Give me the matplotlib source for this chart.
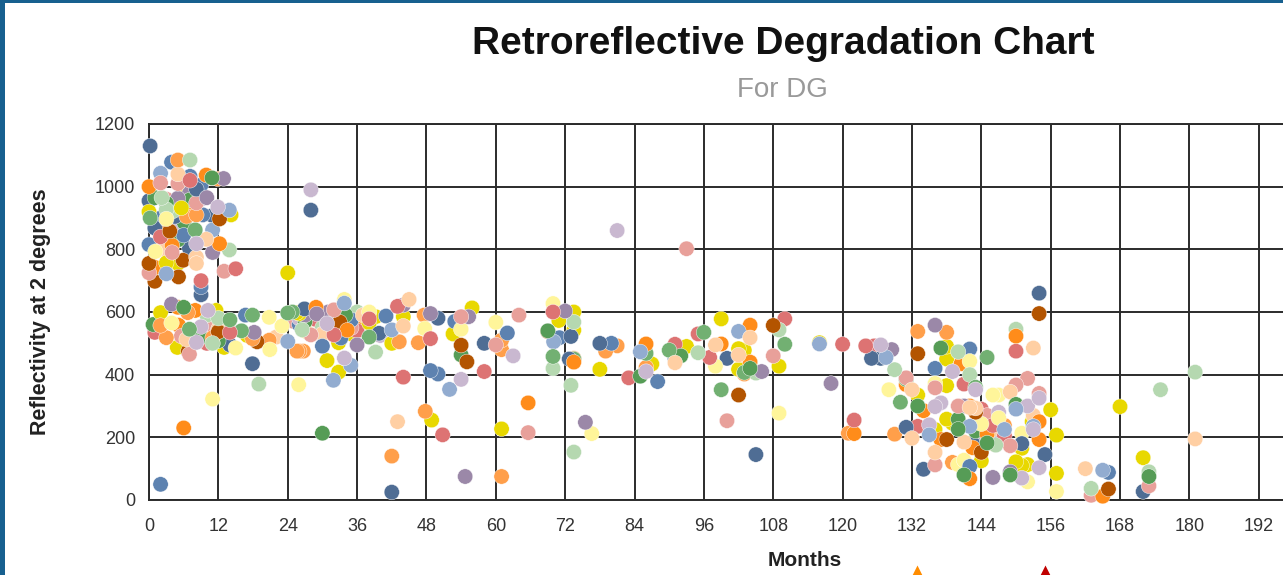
import numpy as np
import matplotlib
matplotlib.use('Agg')
import matplotlib.pyplot as plt
from matplotlib.patches import Rectangle

W, H = 1283, 575

navy_m = [0.2, 8.2, 0, 4.5, 11, 1, 9, 14, 17.9, 26.9, 39.8, 50, 58, 73, 72.7, 42, 78, 100, 105, 125, 126.6, 154, 131, 134, 155, 151, 172, 142.5, 28, 7]
navy_v = [1130, 992, 955, 905, 908, 868, 655, 495, 435, 610, 532, 580, 500, 522, 450, 25, 500, 452, 145, 452, 452, 660, 232, 98, 145, 180, 27, 180, 925, 803]
blue_m = [3.9, 7.1, 9, 9.3, 0, 6, 9, 2, 16.7, 30, 33.2, 41, 48.7, 50, 52.9, 62, 71, 80, 88, 91, 136, 142, 142, 166, 2, 6, 26, 35, 146]
blue_v = [1078, 1033, 1005, 910, 815, 845, 680, 50, 590, 491, 517, 587, 413, 402, 570, 533, 518, 500, 378, 452, 420, 482, 107, 88, 900, 950, 560, 575, 200]
lblue_m = [2, 13.9, 11, 3, 24, 31.9, 34.9, 33.8, 42, 52, 70, 85, 102, 127.5, 135, 150, 142, 148, 165, 116, 153]
lblue_v = [1043, 925, 862, 722, 506, 382, 430, 628, 543, 353, 505, 473, 538, 455, 208, 290, 235, 225, 95, 498, 235]
orange_m = [0, 9.9, 12.2, 4, 1.1, 5, 8, 5.1, 28.9, 34.3, 65.6, 73.5, 86, 99, 104, 104, 134, 142, 142.5, 150, 154, 154, 165, 122, 131, 145, 137, 140.5, 6, 3, 7, 10, 36, 142, 146]
orange_v = [1000, 1037, 818, 812, 742, 615, 605, 558, 615, 542, 310, 440, 498, 498, 558, 440, 285, 68, 167, 523, 250, 193, 12, 212, 368, 210, 193, 435, 230, 880, 930, 560, 560, 300, 180]
lorange_m = [5, 11.9, 8.2, 6.5, 2, 3, 6.7, 11, 17.9, 20.8, 25.6, 26, 26.7, 43.3, 46.6, 47.6, 47.8, 42, 61, 61, 61, 73.5, 79, 81, 86, 133, 138, 129, 121, 139, 148, 103]
lorange_v = [1085, 1025, 910, 905, 557, 518, 598, 518, 515, 510, 475, 475, 475, 505, 502, 590, 283, 140, 510, 480, 75, 452, 475, 492, 423, 538, 535, 210, 213, 120, 238, 402]
peach_m = [5, 9.9, 8.2, 8.2, 6.5, 45, 44, 43, 91, 98, 104, 102, 153, 132, 142, 143, 132, 136, 141, 162, 181, 149, 153, 2, 12, 22, 30, 37, 146]
peach_v = [1040, 832, 755, 775, 513, 640, 555, 250, 438, 495, 518, 463, 485, 352, 295, 293, 197, 152, 185, 100, 195, 345, 270, 800, 545, 520, 530, 590, 225]
red_m = [7.1, 2, 15, 9, 14, 32, 38.1, 43, 44, 50.8, 48.7, 58, 69.9, 83, 91, 95, 97, 110, 120, 124, 122, 125.5, 141, 150, 133, 146, 148, 1, 6, 10, 29, 36, 144]
red_v = [1020, 840, 738, 700, 535, 527, 578, 618, 392, 208, 515, 410, 600, 390, 497, 530, 455, 578, 497, 492, 255, 492, 370, 475, 235, 238, 205, 535, 905, 500, 575, 540, 290]
pink_m = [2, 5, 8.2, 4, 0, 13, 7, 5.6, 28, 32, 54, 60, 64, 65.6, 93, 100, 108, 131, 136, 136, 140, 149, 150, 152, 154, 163, 173, 3, 11, 25, 35, 145]
pink_v = [1012, 1010, 948, 790, 725, 730, 465, 523, 527, 607, 585, 495, 590, 215, 802, 253, 460, 390, 358, 112, 300, 173, 367, 388, 340, 15, 45, 960, 555, 570, 550, 270]
yellow_m = [5.6, 0, 14.2, 3, 5, 2, 11.6, 4.9, 13, 17, 25.6, 24, 26, 32.8, 30.8, 32.8, 38.1, 39.2, 44, 42, 48.9, 52.6, 55.9, 61, 73.5, 70.9, 73.5, 78, 87, 93, 99, 102, 103, 102, 109, 116, 133, 138, 138, 138, 138, 136, 139, 144, 150, 151, 152, 151, 152.8, 156, 157, 157, 168, 172, 6, 10, 13, 27, 35, 147]
yellow_v = [932, 920, 910, 757, 755, 598, 605, 487, 487, 525, 598, 725, 595, 502, 445, 408, 565, 585, 585, 500, 255, 530, 613, 227, 600, 573, 542, 417, 434, 490, 578, 483, 478, 417, 427, 502, 335, 490, 450, 365, 258, 225, 245, 125, 122, 110, 113, 165, 250, 288, 207, 85, 298, 135, 990, 520, 560, 540, 530, 215]
lyellow_m = [3, 1.1, 3.9, 15, 20.8, 20.9, 23, 25.9, 11, 33.8, 38.1, 47.7, 54, 60, 69.9, 76.6, 98, 109, 128, 136, 142, 146, 147, 147, 144, 141, 140, 151, 152, 157]
lyellow_v = [897, 793, 565, 485, 583, 480, 555, 368, 322, 640, 600, 547, 545, 567, 627, 212, 427, 277, 352, 372, 443, 335, 335, 262, 243, 127, 113, 213, 58, 27]
green_m = [10.9, 1, 3, 7.1, 6, 6.1, 0.7, 12, 30, 69, 85, 92, 104, 133, 137, 140, 141, 145, 149, 173, 150, 140, 54, 5, 9, 27, 34, 143]
green_v = [1028, 965, 947, 958, 615, 885, 560, 508, 213, 540, 395, 460, 420, 300, 485, 226, 80, 182, 80, 75, 305, 258, 463, 830, 520, 570, 590, 220]
mgreen_m = [0.2, 8, 7, 14, 17.9, 16, 24, 24.8, 38.1, 69.9, 90, 96, 99, 103, 110, 130, 145, 143, 131, 86, 73.5]
mgreen_v = [900, 862, 545, 575, 590, 540, 597, 600, 520, 458, 478, 535, 352, 407, 497, 312, 455, 360, 385, 468, 450]
lgreen_m = [7.1, 2.2, 3, 4.1, 13.9, 12, 11, 19, 26.5, 39.2, 69.9, 73, 73.5, 73.5, 95, 105, 109, 129, 140, 142, 150, 146.5, 163, 173, 175, 181, 5, 10, 30, 36, 147]
lgreen_v = [1085, 965, 927, 922, 798, 580, 500, 370, 543, 472, 420, 366, 153, 568, 470, 405, 543, 416, 473, 400, 545, 175, 37, 90, 352, 408, 880, 590, 550, 600, 200]
purple_m = [12.9, 10, 5, 11, 3.9, 18.2, 29, 36, 44, 48.7, 55.3, 54.7, 72, 75.5, 106, 118, 128.5, 136, 146, 149, 7, 13, 27, 31, 141]
purple_v = [1026, 965, 963, 790, 625, 535, 594, 495, 622, 595, 585, 75, 603, 248, 410, 372, 480, 558, 72, 90, 980, 510, 590, 600, 300]
lilac_m = [11.9, 8.2, 10.2, 9, 8.2, 30.8, 33.8, 54, 63, 81, 86, 126.6, 139, 143, 154, 136, 137, 152, 135, 153, 154, 151, 28, 40, 4, 9, 26, 32, 144, 147]
lilac_v = [935, 818, 605, 553, 503, 563, 453, 385, 460, 860, 410, 495, 410, 352, 325, 298, 310, 300, 240, 225, 103, 70, 990, 525, 870, 960, 580, 570, 190, 280]
brown_m = [3.6, 12.2, 0, 5.9, 5.1, 1, 12, 6.8, 18.7, 33, 54, 55, 102, 108, 133, 138, 143, 144, 154, 166, 69]
brown_v = [858, 897, 755, 765, 712, 698, 537, 475, 505, 568, 494, 441, 335, 557, 467, 193, 280, 152, 595, 35, 538]

series = [
    (yellow_m, yellow_v, '#e8d800'), (brown_m, brown_v, '#b35400'), (navy_m, navy_v, '#4f6d94'),
    (lyellow_m, lyellow_v, '#fff59a'), (purple_m, purple_v, '#9b88a8'), (orange_m, orange_v, '#ff8c1a'),
    (green_m, green_v, '#569c56'), (blue_m, blue_v, '#5d82b0'), (peach_m, peach_v, '#ffcfa3'),
    (red_m, red_v, '#dd7373'), (mgreen_m, mgreen_v, '#72b072'), (lblue_m, lblue_v, '#92acd0'),
    (lorange_m, lorange_v, '#ff9f4a'), (lilac_m, lilac_v, '#c9b8d0'), (pink_m, pink_v, '#e8a09a'),
    (lgreen_m, lgreen_v, '#b5d8b0'),
]

month_ticks = list(range(0, 193, 12))
value_ticks = list(range(0, 1201, 200))
alert_months = [132.9, 155.0]
alert_colors = ['#ff8c00', '#c00000']

plt.rcParams['font.family'] = ['Liberation Sans', 'DejaVu Sans']

fig = plt.figure(figsize=(W / 100, H / 100), dpi=100, facecolor='w')
ax = fig.add_axes([149 / W, 1 - 500 / H, (W - 149) / W, 376 / H])

# last points of every series go down first, the first ones end up on top
ms, vs, cs, rank = [], [], [], []
for m, v, c in series:
    ms += m
    vs += v
    cs += [c] * len(m)
    rank += list(range(len(m)))
order = np.argsort(-np.array(rank), kind='stable')
ax.scatter(np.array(ms)[order], np.array(vs)[order], c=np.array(cs)[order], s=122,
           edgecolors='w', linewidths=0.3, zorder=3, clip_on=False)

ax.set_xlim(0, (W - 149) / 5.78)
ax.set_ylim(0, 1200)
ax.set_xticks(month_ticks)
ax.set_yticks(value_ticks)
ax.grid(color='#2b2b2b', lw=1.4, zorder=1)
ax.set_axisbelow(True)
ax.tick_params(length=0, labelsize=13, labelcolor='#333333')
ax.tick_params(axis='x', pad=13)
ax.tick_params(axis='y', pad=10)
for s in ['top', 'left', 'bottom']:
    ax.spines[s].set_color('#2b2b2b')
    ax.spines[s].set_linewidth(1.4)
ax.spines['right'].set_visible(False)

fig.text(783 / W, 1 - 44 / H, 'Retroreflective Degradation Chart', ha='center', va='center',
         fontsize=28, fontweight='bold', color='#111111')
fig.text(782 / W, 1 - 90 / H, 'For DG', ha='center', va='center', fontsize=20, color='#999999')
fig.text(805 / W, 1 - 560 / H, 'Months', ha='center', va='center', fontsize=15,
         fontweight='bold', color='#222222')
fig.text(41 / W, 1 - 312 / H, 'Reflectivity at 2 degrees', ha='center', va='center', rotation=90,
         fontsize=15.5, fontweight='bold', color='#222222')

for m, c in zip(alert_months, alert_colors):
    ax.plot([m], [-240], marker='^', ms=14, color=c, mec='none', clip_on=False, zorder=4)

# blue window frame left and top
fig.add_artist(Rectangle((0, 0), 5 / W, 1, transform=fig.transFigure, color='#17608f', lw=0))
fig.add_artist(Rectangle((0, 1 - 3 / H), 1, 3 / H, transform=fig.transFigure, color='#17608f', lw=0))

fig.savefig('out.png', dpi=100)
